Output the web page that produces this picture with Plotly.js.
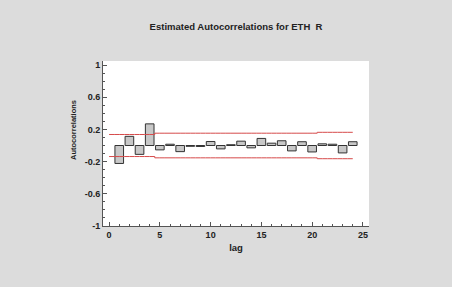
<!DOCTYPE html>
<html>
<head>
<meta charset="utf-8">
<script src="https://cdn.plot.ly/plotly-3.0.1.min.js"></script>
<style>html,body{margin:0;padding:0;background:#dcdcdc;}</style>
</head>
<body>
<div id="chart" style="width:452px;height:287px;"></div>
<script>
const lags = [1,2,3,4,5,6,7,8,9,10,11,12,13,14,15,16,17,18,19,20,21,22,23,24];
const autocorrelations = [-0.223,0.114,-0.110,0.269,-0.054,0.016,-0.076,-0.010,-0.012,0.050,-0.042,0.010,0.054,-0.029,0.088,0.029,0.059,-0.067,0.047,-0.080,0.021,0.016,-0.092,0.047];
const limitLags = [0,1,2,3,4,5,6,7,8,9,10,11,12,13,14,15,16,17,18,19,20,21,22,23,24];
const upperLimit = [0.137,0.137,0.137,0.137,0.137,0.153,0.153,0.153,0.153,0.153,0.153,0.153,0.153,0.153,0.153,0.153,0.153,0.153,0.153,0.153,0.153,0.164,0.164,0.164,0.164];
const lowerLimit = upperLimit.map(v => -v);
const xTicks = [0,5,10,15,20,25];
const yTicks = [-1,-0.6,-0.2,0.2,0.6,1];
const yTickLabels = ['-1','-0.6','-0.2','0.2','0.6','1'];

const fontFam = 'Arial, "Liberation Sans", sans-serif';
const traces = [
  {type:'bar', x:lags, y:autocorrelations, width:0.85,
   marker:{color:'#c8c8c8', line:{color:'#333333', width:1}}, hoverinfo:'skip'},
  {type:'scatter', mode:'lines', x:limitLags, y:upperLimit, line:{color:'#d64a4a', width:1, shape:'hvh'}},
  {type:'scatter', mode:'lines', x:limitLags, y:lowerLimit, line:{color:'#d64a4a', width:1, shape:'hvh'}}
];
const layout = {
  width:452, height:287,
  margin:{l:103, r:83, t:61, b:61, pad:0},
  paper_bgcolor:'#dcdcdc', plot_bgcolor:'#ffffff',
  showlegend:false,
  font:{family:fontFam, color:'#222222', size:9},
  title:{text:'Estimated Autocorrelations for ETH  R', font:{family:fontFam, size:9.5, color:'#222222', weight:'bold'},
         x:0.5, xref:'paper', xanchor:'center', y:1-27/287, yref:'container', yanchor:'middle'},
  xaxis:{range:[-0.6,25.6], tickvals:xTicks, ticktext:xTicks.map(String), ticks:'inside', ticklen:4, tickcolor:'#555',
         showline:true, linecolor:'#555', linewidth:1, mirror:false, showgrid:false, zeroline:false,
         tickfont:{family:fontFam, size:9, weight:'bold', color:'#222'},
         minor:{dtick:1, tick0:0, ticks:'inside', ticklen:2, tickcolor:'#555', showgrid:false},
         title:{text:'lag', font:{family:fontFam, size:9.5, weight:'bold', color:'#222'}, standoff:5}},
  yaxis:{range:[-1.0,1.05], tickvals:yTicks, ticktext:yTickLabels, ticks:'inside', ticklen:4, tickcolor:'#555',
         showline:true, linecolor:'#555', linewidth:1, mirror:false, showgrid:false, zeroline:false,
         tickfont:{family:fontFam, size:9, weight:'bold', color:'#222'},
         minor:{dtick:0.1, tick0:-1, ticks:'inside', ticklen:2, tickcolor:'#555', showgrid:false}},
  annotations:[{text:'Autocorrelations', textangle:-90, showarrow:false, xref:'paper', yref:'paper',
                x:(73-103)/266, y:(226-130)/165, xanchor:'center', yanchor:'middle',
                font:{family:fontFam, size:7.5, weight:'bold', color:'#222'}}]
};
Plotly.newPlot('chart', traces, layout, {displayModeBar:false, staticPlot:true});
</script>
</body>
</html>
